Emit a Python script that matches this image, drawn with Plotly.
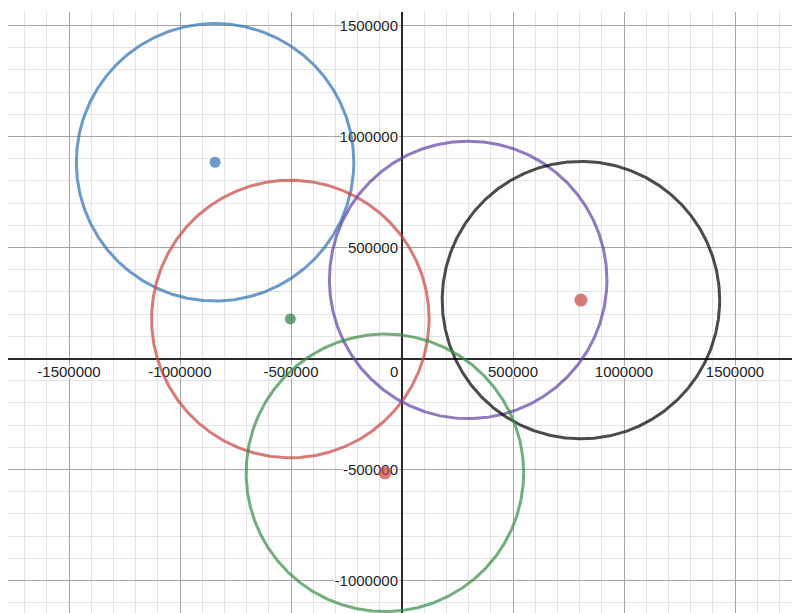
import numpy as np
import plotly.graph_objects as go

# ---- data ----
circle_names = ["blue", "red", "purple", "black", "green"]
circle_cx = [-842000, -503000, 298000, 806000, -77000]
circle_cy = [884000, 178000, 354000, 263000, -515000]
circle_r = [625000, 625000, 625000, 625000, 625000]
circle_colors = ["#2d70b3", "#c74440", "#6042a6", "#000000", "#388c46"]

point_x = [-842000, -503000, 806000, -77000]
point_y = [884000, 178000, 263000, -515000]
point_colors = ["#2d70b3", "#2e7d3a", "#c74440", "#c74440"]
point_sizes = [11, 11, 13, 13]

x_ticks = [-1500000, -1000000, -500000, 500000, 1000000, 1500000]
y_ticks = [-1000000, -500000, 500000, 1000000, 1500000]
x_range = [-1774775, 1828829]
y_range = [-1182432, 1560811]

fig = go.Figure()

theta = np.linspace(0, 2 * np.pi, 721)
for name, cx, cy, r, c in zip(circle_names, circle_cx, circle_cy, circle_r, circle_colors):
    fig.add_trace(go.Scatter(
        x=cx + r * np.cos(theta), y=cy + r * np.sin(theta),
        mode="lines", line=dict(color=c, width=3), opacity=0.7,
        hoverinfo="skip", showlegend=False, name=name))

fig.add_trace(go.Scatter(
    x=point_x, y=point_y, mode="markers",
    marker=dict(color=point_colors, size=point_sizes, line=dict(width=0)),
    showlegend=False))

halo = "1px 0 1px white, -1px 0 1px white, 0 1px 1px white, 0 -1px 1px white, 1px 1px 1px white, -1px -1px 1px white, 1px -1px 1px white, -1px 1px 1px white"
tickfont = dict(family="Liberation Sans, Arial, sans-serif", size=15, color="#222", shadow=halo)

x_pos = (0 - y_range[0]) / (y_range[1] - y_range[0])
y_pos = (0 - x_range[0]) / (x_range[1] - x_range[0])

fig.update_layout(
    width=800, height=613,
    margin=dict(l=0, r=0, t=4, b=0),
    paper_bgcolor="white", plot_bgcolor="white",
    xaxis=dict(
        range=x_range, tickmode="array", tickvals=x_ticks,
        ticktext=[str(v) for v in x_ticks],
        showgrid=True, gridcolor="#a6a6a6", gridwidth=1,
        minor=dict(tickmode="linear", tick0=0, dtick=100000, showgrid=True,
                   gridcolor="#e3e3e3", gridwidth=1),
        zeroline=True, zerolinecolor="#2a2a2a", zerolinewidth=2,
        anchor="free", position=x_pos, side="bottom",
        ticks="", ticklabelstandoff=2, tickfont=tickfont,
        layer="below traces", showline=False, fixedrange=True,
    ),
    yaxis=dict(
        range=y_range, tickmode="array", tickvals=y_ticks,
        ticktext=[str(v) for v in y_ticks],
        showgrid=True, gridcolor="#a6a6a6", gridwidth=1,
        minor=dict(tickmode="linear", tick0=0, dtick=100000, showgrid=True,
                   gridcolor="#e3e3e3", gridwidth=1),
        zeroline=True, zerolinecolor="#2a2a2a", zerolinewidth=2,
        anchor="free", position=y_pos, side="left",
        ticks="", ticklabelstandoff=4, tickfont=tickfont,
        layer="below traces", showline=False, fixedrange=True,
    ),
    annotations=[dict(
        x=0, y=0, xref="x", yref="y", text="0", showarrow=False,
        xanchor="right", yanchor="middle", xshift=-2, yshift=-13,
        font=dict(family="Liberation Sans, Arial, sans-serif", size=15, color="#222"),
    )],
)

fig.write_html("out.html")
